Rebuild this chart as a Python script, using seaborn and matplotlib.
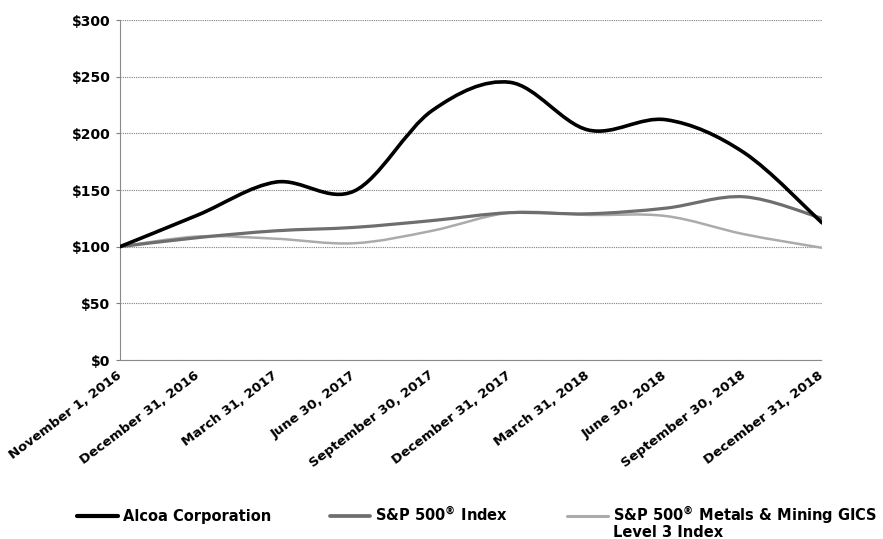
import numpy as np
import pandas as pd
import matplotlib
matplotlib.use("Agg")
import matplotlib.pyplot as plt
import matplotlib.transforms as mtransforms
import seaborn as sns
from matplotlib.path import Path
from matplotlib.patches import PathPatch
from matplotlib.lines import Line2D

# Data (cumulative value of $100 invested)
DATES = ["November 1, 2016", "December 31, 2016", "March 31, 2017", "June 30, 2017",
         "September 30, 2017", "December 31, 2017", "March 31, 2018", "June 30, 2018",
         "September 30, 2018", "December 31, 2018"]
ALCOA = [100, 128, 157, 149, 220, 245, 203, 212, 183, 121]
SP500 = [100, 108, 114, 117, 123, 130, 129, 134, 144, 125]
METALS = [100, 109, 107, 103, 114, 130, 128, 127, 111, 99]
SERIES_NAMES = ["Alcoa Corporation", "S&P 500$^{®}$ Index",
                "S&P 500$^{®}$ Metals & Mining GICS"]
EXTRA_LINE = "Level 3 Index"
Y_TICKS = [0, 50, 100, 150, 200, 250, 300]
Y_LABELS = ["$0", "$50", "$100", "$150", "$200", "$250", "$300"]

COLORS = ["#000000", "#6e6e6e", "#ababab"]
WIDTHS = [2.6, 2.3, 1.8]

sns.set_style("white")
plt.rcParams["font.family"] = ["DejaVu Sans"]
plt.rcParams["text.color"] = "black"
plt.rcParams["mathtext.fontset"] = "custom"
plt.rcParams["mathtext.rm"] = "DejaVu Sans:bold"
plt.rcParams["mathtext.default"] = "rm"


def smooth_path(x, y):
    # cubic bezier through every point (like a spreadsheet "smoothed line")
    pts = np.column_stack([x, y]).astype(float)
    ext = np.vstack([pts[0], pts, pts[-1]])
    verts = [pts[0]]
    codes = [Path.MOVETO]
    for i in range(len(pts) - 1):
        p0, p1, p2, p3 = ext[i], ext[i + 1], ext[i + 2], ext[i + 3]
        verts += [p1 + (p2 - p0) / 6, p2 - (p3 - p1) / 6, p2]
        codes += [Path.CURVE4] * 3
    return Path(verts, codes)


def main():
    pos = np.arange(len(DATES))
    df = pd.DataFrame({"pos": np.tile(pos, 3),
                       "value": ALCOA + SP500 + METALS,
                       "series": np.repeat(SERIES_NAMES, len(DATES))})

    fig = plt.figure(figsize=(8.83, 5.39), dpi=100)
    ax = fig.add_axes([120 / 883, 1 - 360 / 539, 702 / 883, 340 / 539])

    handles = []
    for name, color, lw in zip(SERIES_NAMES[::-1], COLORS[::-1], WIDTHS[::-1]):
        sub = df[df["series"] == name]
        sns.lineplot(data=sub, x="pos", y="value", ax=ax, color=color, legend=False)
        line = ax.lines[-1]
        xd, yd = line.get_xydata().T
        line.set_visible(False)
        ax.add_patch(PathPatch(smooth_path(xd, yd), fill=False, edgecolor=color,
                               linewidth=lw, capstyle="round", joinstyle="round", zorder=3))
        handles.insert(0, Line2D([], [], color=color, linewidth=lw + 0.4))

    ax.set_xlim(0, len(DATES) - 1)
    ax.set_ylim(0, 300)
    ax.set_yticks(Y_TICKS)
    ax.set_yticklabels(Y_LABELS, fontsize=10, fontweight="bold")
    ax.set_xticks(pos)
    ax.set_xticklabels(DATES, rotation=37, ha="right", va="center",
                       rotation_mode="anchor", fontsize=9.5, fontweight="bold")
    offset = mtransforms.ScaledTranslation(8 / 72, 0, fig.dpi_scale_trans)
    for lab in ax.get_xticklabels():
        lab.set_transform(lab.get_transform() + offset)
    ax.set_xlabel("")
    ax.set_ylabel("")

    ax.grid(axis="y", color="#7f7f7f", linestyle=(0, (1, 1)), linewidth=0.8)
    ax.grid(axis="x", visible=False)
    for side in ["top", "right"]:
        ax.spines[side].set_visible(False)
    for side in ["left", "bottom"]:
        ax.spines[side].set_color("#8a8a8a")
        ax.spines[side].set_linestyle((0, (1, 1)))
        ax.spines[side].set_linewidth(0.8)
    ax.tick_params(axis="x", direction="in", length=3, color="#7f7f7f", pad=10,
                   labelcolor="black")
    ax.tick_params(axis="y", direction="out", length=3, color="#7f7f7f", pad=4, left=True,
                   labelcolor="black")

    leg = fig.legend(handles, SERIES_NAMES, loc="upper left", bbox_to_anchor=(77 / 883, 0.064),
                     ncol=3, frameon=False, handlelength=2.8, handletextpad=0.35,
                     columnspacing=4.0, borderpad=0, borderaxespad=0,
                     prop={"weight": "bold", "size": 10.5})

    # second line of the last legend label
    fig.canvas.draw()
    bb = leg.get_texts()[-1].get_window_extent().transformed(fig.transFigure.inverted())
    fig.text(bb.x0, bb.y0 + 0.003, EXTRA_LINE, ha="left", va="top",
             fontsize=10.5, fontweight="bold")

    fig.savefig("out.png", dpi=100)


if __name__ == "__main__":
    main()
